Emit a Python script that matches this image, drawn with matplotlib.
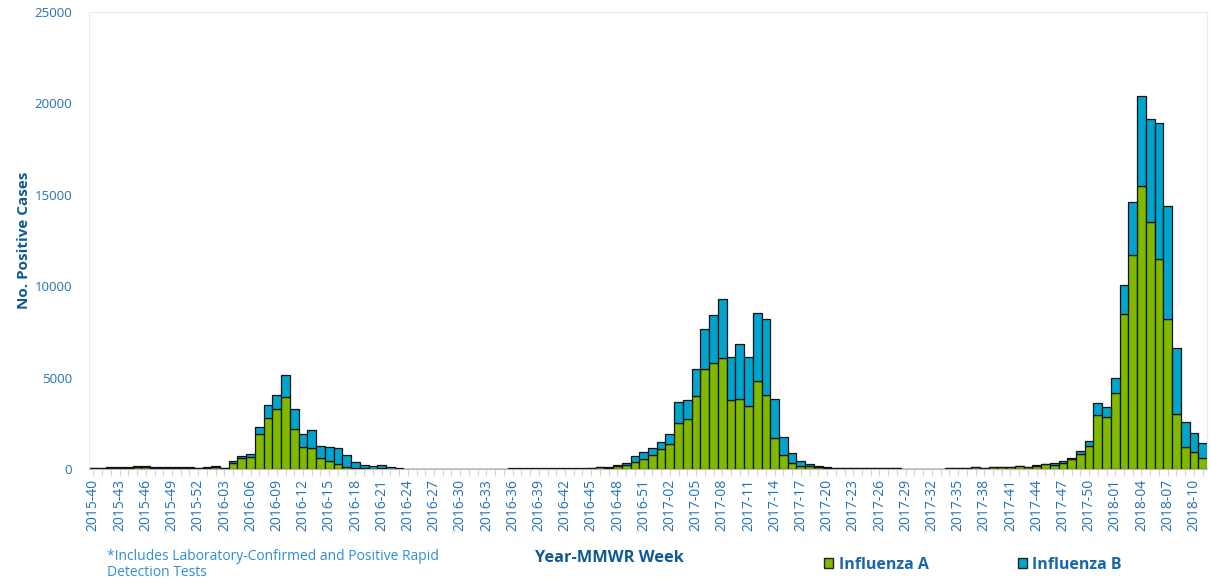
import matplotlib
matplotlib.use("Agg")
import matplotlib.pyplot as plt
from matplotlib.patches import Patch

plt.rcParams['font.family'] = ['Open Sans', 'DejaVu Sans']

# MMWR weeks shown on the x axis
seasons = [(2015, 40, 52), (2016, 1, 52), (2017, 1, 52), (2018, 1, 11)]
weeks = []
for yr, w0, w1 in seasons:
    for w in range(w0, w1 + 1):
        weeks.append("%d-%02d" % (yr, w))

# weekly positive cases, influenza A
flu_a = [
    # 2015-40 .. 2015-52
    40, 40, 70, 70, 70, 90, 90, 80, 80, 80, 80, 80, 40,
    # 2016-01 .. 2016-52
    80, 120, 60, 330, 600, 660, 1900, 2790, 3280, 3960, 2190, 1185, 1130,
    585, 440, 275, 110, 40, 30, 20, 55, 20, 10,
    0, 0, 0, 0, 0, 0, 0, 0, 0, 0, 0, 0,
    25, 25, 25, 25, 25, 25, 25, 25, 25,
    40, 100, 60, 145, 240, 380, 530, 750,
    # 2017-01 .. 2017-52
    1075, 1385, 2535, 2750, 4010, 5490, 5780, 6055, 3755, 3810, 3445, 4795,
    4065, 1695, 750, 345, 165, 160, 110, 60,
    40, 40, 40, 40, 40, 40, 40, 40,
    0, 0, 0, 0, 0,
    45, 45, 45,
    100, 45, 100, 100, 100, 150, 100, 180, 255, 240, 330, 530, 800, 1260,
    2935, 2845,
    # 2018-01 .. 2018-11
    4155, 8460, 11720, 15460, 13490, 11505, 8205, 3010, 1220, 910, 585,
]

# weekly positive cases, influenza B
flu_b = [
    # 2015-40 .. 2015-52
    20, 20, 20, 20, 20, 60, 60, 20, 20, 20, 20, 20, 10,
    # 2016-01 .. 2016-52
    20, 30, 20, 125, 110, 160, 400, 710, 750, 1160, 1090, 730, 1000,
    675, 745, 855, 655, 360, 205, 145, 180, 70, 30,
    0, 0, 0, 0, 0, 0, 0, 0, 0, 0, 0, 0,
    5, 5, 5, 5, 5, 5, 5, 5, 5,
    10, 30, 70, 95, 105, 315, 380, 380,
    # 2017-01 .. 2017-52
    400, 530, 1115, 1040, 1480, 2150, 2640, 3245, 2355, 3030, 2665, 3735,
    4125, 2115, 1000, 530, 275, 125, 70, 70,
    20, 20, 20, 20, 20, 20, 20, 20,
    0, 0, 0, 0, 0,
    15, 15, 15,
    30, 15, 30, 30, 30, 30, 30, 60, 35, 105, 110, 90, 165, 290,
    655, 565,
    # 2018-01 .. 2018-11
    805, 1620, 2880, 4925, 5635, 7420, 6165, 3625, 1370, 1040, 835,
]

y_ticks = [0, 5000, 10000, 15000, 20000, 25000]

green = '#80b900'
blue = '#00a4cc'
tick_col = '#2371b5'
title_col = '#0f5a92'

fig = plt.figure(figsize=(12.11, 5.79), dpi=100)
ax = fig.add_axes([89 / 1211, 110 / 579, 1118 / 1211, 457 / 579])

x = list(range(len(weeks)))
ax.bar(x, flu_a, width=1.0, color=green, edgecolor='#111111', linewidth=0.9)
ax.bar(x, flu_b, bottom=flu_a, width=1.0, color=blue, edgecolor='#111111', linewidth=0.9)

ax.set_xlim(-0.5, len(weeks) - 0.5)
ax.set_ylim(0, 25000)
ax.set_yticks(y_ticks)
ax.set_yticklabels([str(v) for v in y_ticks], color=tick_col, fontsize=9.5)
ax.tick_params(axis='y', length=0, pad=12)

ax.set_xticks(x)
ax.set_xticklabels([w if i % 3 == 0 else '' for i, w in enumerate(weeks)],
                   rotation=90, color=tick_col, fontsize=10)
ax.tick_params(axis='x', length=5, color='#d5d5d5', pad=2)

for s in ['top', 'left', 'right']:
    ax.spines[s].set_color('#ebebeb')
ax.spines['bottom'].set_color('#bbbbbb')

ax.set_ylabel('No. Positive Cases', fontsize=11, fontweight='bold', color=title_col)
ax.yaxis.set_label_coords(-0.052, 0.5)

fig.text(609 / 1211, 1 - 558 / 579, 'Year-MMWR Week', ha='center', va='center',
         fontsize=11.8, fontweight='bold', color=title_col)
fig.text(107 / 1211, 1 - 549 / 579, '*Includes Laboratory-Confirmed and Positive Rapid\nDetection Tests',
         ha='left', va='top', fontsize=10, color='#2e8ed4', linespacing=1.05)

handles = [Patch(facecolor=green, edgecolor='#222222', label='Influenza A'),
           Patch(facecolor=blue, edgecolor='#222222', label='Influenza B')]
leg = fig.legend(handles=handles, loc='center left', ncol=2, frameon=False,
                 bbox_to_anchor=(810 / 1211, 1 - 565 / 579), handlelength=0.55, handleheight=0.6,
                 handletextpad=0.35, columnspacing=5.6, prop={'weight': 'bold', 'size': 11.5})
for t in leg.get_texts():
    t.set_color('#1a66ab')

fig.savefig('out.png', dpi=100)
